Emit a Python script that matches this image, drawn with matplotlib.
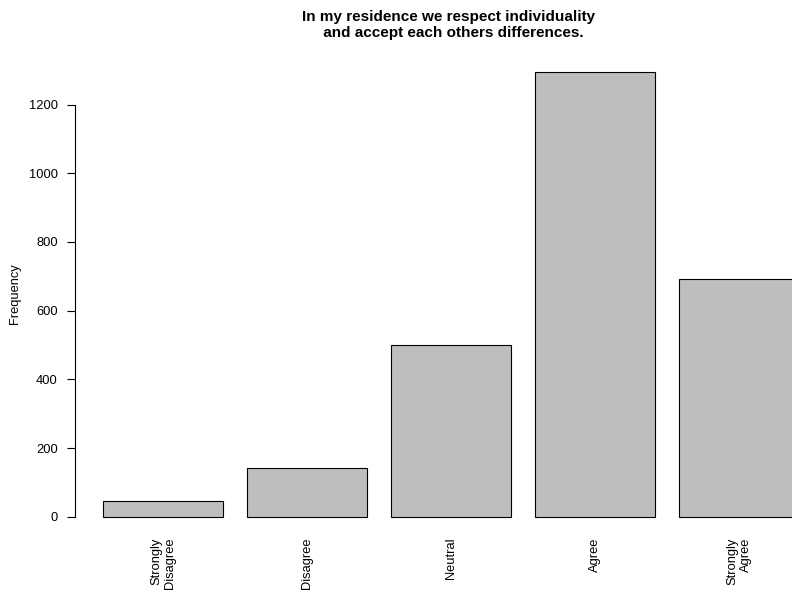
import numpy as np
import matplotlib
matplotlib.use("Agg")
import matplotlib.pyplot as plt

# Data
categories = ["Strongly\nDisagree", "Disagree", "Neutral", "Agree", "Strongly\nAgree"]
counts = [47, 143, 500, 1295, 691]
y_ticks = [0, 200, 400, 600, 800, 1000, 1200]
title = "In my residence we respect individuality \n and accept each others differences."

plt.rcParams['font.family'] = ['Liberation Sans', 'DejaVu Sans']

W, H = 792, 592
fig = plt.figure(figsize=(W / 100, H / 100), dpi=100)

# plot region in pixels (R-like barplot, right side runs past the figure)
left_px, right_px, top_px, bottom_px = 75.0, 827.4, 54.2, 534.5
ax = fig.add_axes([left_px / W, 1 - bottom_px / H,
                   (right_px - left_px) / W, (bottom_px - top_px) / H])

n = len(counts)
width, space = 1.0, 0.2
lefts = space + np.arange(n) * (width + space)
centers = lefts + width / 2

ax.bar(centers, counts, width=width, color="#BEBEBE", edgecolor="black",
       linewidth=0.8)

xmin, xmax = space, lefts[-1] + width
ext = 0.04 * (xmax - xmin)
ax.set_xlim(xmin - ext, xmax + ext)
ymax = max(counts)
ax.set_ylim(-0.04 * ymax, 1.04 * ymax)

for s in ["top", "right", "bottom"]:
    ax.spines[s].set_visible(False)
ax.spines["left"].set_bounds(y_ticks[0], y_ticks[-1])
ax.spines["left"].set_linewidth(0.8)

ax.set_yticks(y_ticks)
ax.set_yticklabels([str(t) for t in y_ticks])
ax.tick_params(axis="y", length=5.8, width=0.8, pad=6.5, labelsize=9.3)

ax.set_xticks(centers)
ax.set_xticklabels(categories, rotation=90, va="top", ha="center",
                   multialignment="right", fontsize=9.3)
ax.tick_params(axis="x", length=0, pad=2.0)

fig.text(15 / W, 1 - 294 / H, "Frequency", rotation=90, ha="center",
         va="center", fontsize=9.3)
fig.text(451 / W, 1 - 25 / H, title, ha="center", va="center",
         fontsize=11.0, fontweight="bold", linespacing=1.15)

fig.savefig("out.png", dpi=100)
